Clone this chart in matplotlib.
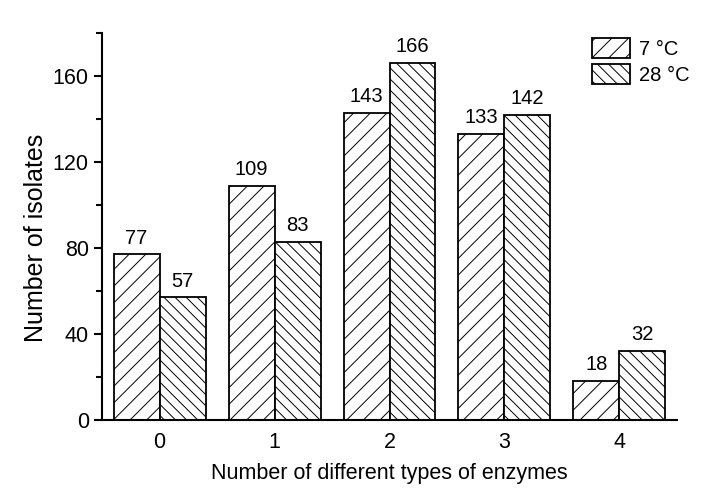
import matplotlib
matplotlib.use("Agg")
import matplotlib.pyplot as plt
from matplotlib.ticker import MultipleLocator
import numpy as np

categories = ["0", "1", "2", "3", "4"]
cold_7c = [77, 109, 143, 133, 18]
warm_28c = [57, 83, 166, 142, 32]
series_labels = ["7 \u00b0C", "28 \u00b0C"]

plt.rcParams["font.family"] = ["Liberation Sans", "DejaVu Sans"]
plt.rcParams["hatch.linewidth"] = 0.7
plt.rcParams["hatch.color"] = "#333333"

fig = plt.figure(figsize=(7.16, 5.01), dpi=100)
ax = fig.add_axes([0.1425, 0.1617, 0.803, 0.7723])

x = np.arange(len(categories))
w = 0.4
b1 = ax.bar(x - w / 2, cold_7c, w, facecolor="white", edgecolor="black",
            linewidth=1.3, hatch="//", label=series_labels[0])
b2 = ax.bar(x + w / 2, warm_28c, w, facecolor="white", edgecolor="black",
            linewidth=1.3, hatch="\\\\\\", label=series_labels[1])
for bars, vals in ((b1, cold_7c), (b2, warm_28c)):
    for r, v in zip(bars, vals):
        ax.annotate(str(v), (r.get_x() + r.get_width() / 2, v),
                    xytext=(0, 5), textcoords="offset points",
                    ha="center", va="bottom", fontsize=14.5)

ax.set_xlim(-0.5, 4.5)
ax.set_ylim(0, 180)
ax.set_xticks(x)
ax.set_xticklabels(categories)
ax.yaxis.set_major_locator(MultipleLocator(40))
ax.yaxis.set_minor_locator(MultipleLocator(20))
ax.tick_params(axis="y", which="major", direction="out", length=6, width=1.5,
               labelsize=15.5)
ax.tick_params(axis="y", which="minor", direction="out", length=4, width=1.5)
ax.tick_params(axis="x", length=0, labelsize=15.5, pad=9)
for s in ("top", "right"):
    ax.spines[s].set_visible(False)
for s in ("left", "bottom"):
    ax.spines[s].set_linewidth(1.5)

ax.set_xlabel("Number of different types of enzymes", fontsize=15.5, labelpad=7)
ax.set_ylabel("Number of isolates", fontsize=18)
ax.yaxis.set_label_coords(-0.094, 0.47)

ax.legend(loc="upper left", bbox_to_anchor=(0.8268, 0.9242),
          bbox_transform=fig.transFigure, frameon=False,
          fontsize=14.5, handlelength=1.9, handleheight=1.15, handletextpad=0.45,
          labelspacing=0.25, borderpad=0.0, borderaxespad=0.0)

fig.savefig("out.png", dpi=100)
